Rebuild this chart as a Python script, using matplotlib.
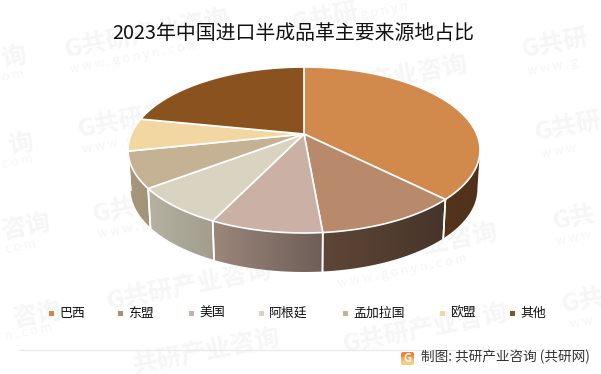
import numpy as np
import matplotlib
matplotlib.use('Agg')
import matplotlib.pyplot as plt
from matplotlib.patches import Polygon, Rectangle, FancyBboxPatch
from matplotlib.colors import to_rgb

plt.rcParams['font.family'] = ['Noto Sans CJK SC', 'DejaVu Sans']

# 数据
categories = ['巴西', '东盟', '美国', '阿根廷', '孟加拉国', '欧盟', '其他']
shares = [37.5, 11.1, 8.6, 7.5, 7.0, 6.4, 21.9]
top_colors = ['#D1894C', '#B8896B', '#CBB0A5', '#D9D4C1', '#C5B295', '#F3D7A3', '#89521F']
# 侧面渐变（左色, 右色）
side_left = ['#55341C', '#5E4636', '#9C867B', '#B5B2A1', '#A8977F', '#A8977F', '#55341C']
side_right = ['#4F311A', '#47352A', '#6D5E57', '#A29D8C', '#A39378', '#A8977F', '#55341C']
legend_x = [51, 120, 191, 261, 345, 442, 512]

# 水印（文字, 起点x, 起点y）
FULL = 'G共研产业咨询'
WWW = 'w w w . g o n y n . c o m'
wm_text = [FULL, 'G共研', FULL, FULL, FULL, 'G共研', FULL, 'G共', FULL, FULL, FULL, 'G共',
           '共研产业咨询', 'G共研', '询', '询', '咨询', '咨询']
wm_x = [65, 522, 78, 303, 318, 535, 93, 553, 333, 107, 343, 562, 133, 292, 1, 8, 1, 12]
wm_y = [50, 50, 130, 96, 182, 133, 215, 222, 264, 302, 345, 305, 366, 24, 60, 147, 232, 320]
www_text = [WWW, WWW, WWW, WWW, WWW, WWW, 'w w w . g o n y n', 'o m', 'c o m', 'c o m', 'n . c o m',
            'w w w . g', 'w w w', 'w w w', 'w w']
www_x = [70, 83, 308, 323, 98, 338, 318, 2, 2, 5, 5, 528, 541, 556, 570]
www_y = [70, 150, 116, 202, 235, 284, 24, 78, 165, 250, 337, 72, 155, 242, 325]

CX, CY = 304, 134
A, B, K = 172.7, 79.9, 0.1928
DEPTH = 39
SHRINK = 0.985
# 透视椭圆左右最宽处对应的角度
SIDE_START = np.pi - np.arccos(K)
SIDE_END = np.pi + np.arccos(K)


def project(theta, bottom=False):
    # 顶面圆 -> 透视椭圆
    u, v = np.sin(theta), -np.cos(theta)
    w = 1 - K * v
    x = A * u / w
    y = CY + B * v / w
    if bottom:
        return CX + x * SHRINK, y + DEPTH
    return CX + x, y


fig = plt.figure(figsize=(6.01, 3.74), dpi=100)
ax = fig.add_axes([0, 0, 1, 1])

# 水印
for s, wx, wy in zip(wm_text, wm_x, wm_y):
    ax.text(wx, wy, s, fontsize=18, fontweight='bold', color='#F6F6F6', rotation=11,
            rotation_mode='anchor', ha='left', va='center', zorder=0)
for s, wx, wy in zip(www_text, www_x, www_y):
    ax.text(wx, wy, s, fontsize=9, color='#F5F5F5', rotation=11,
            rotation_mode='anchor', ha='left', va='center', zorder=0)

edges = np.radians(np.cumsum([0] + shares) * 3.6)

# 侧面
for i in range(len(shares)):
    t0, t1 = max(edges[i], SIDE_START), min(edges[i + 1], SIDE_END)
    if t1 <= t0:
        continue
    ts = np.linspace(t0, t1, 80)
    xs, ys = project(ts)
    xb, yb = project(ts, bottom=True)
    pts = np.r_[np.c_[xs, ys], np.c_[xb, yb][::-1]]
    x0, x1 = pts[:, 0].min(), pts[:, 0].max()
    # 左右方向的渐变
    c0, c1 = np.array(to_rgb(side_left[i])), np.array(to_rgb(side_right[i]))
    grad = np.linspace(0, 1, 64)[None, :, None]
    img = c0[None, None, :] * (1 - grad) + c1[None, None, :] * grad
    im = ax.imshow(img, extent=(x0, x1, pts[:, 1].max(), pts[:, 1].min()),
                   aspect='auto', zorder=2)
    poly = Polygon(pts, closed=True, facecolor='none', edgecolor='none', transform=ax.transData)
    ax.add_patch(poly)
    im.set_clip_path(poly)
    # 分隔线
    for t in (edges[i], edges[i + 1]):
        if SIDE_START < t < SIDE_END:
            xa, ya = project(t)
            xc, yc = project(t, bottom=True)
            ax.plot([xa, xc], [ya, yc], color='white', lw=1.2, zorder=3)

# 顶面
for i in range(len(shares)):
    ts = np.linspace(edges[i], edges[i + 1], 120)
    xs, ys = project(ts)
    ax.add_patch(Polygon(np.r_[[[CX, CY]], np.c_[xs, ys]], closed=True, facecolor=top_colors[i],
                         edgecolor='white', linewidth=1.2, joinstyle='round', zorder=4))

# 标题
ax.text(293, 33, '2023年中国进口半成品革主要来源地占比', fontsize=14.3, color='#111111',
        ha='center', va='center', zorder=6)

# 图例
for i, name in enumerate(categories):
    ax.add_patch(Rectangle((legend_x[i] - 2, 311), 4.5, 4.5, facecolor=top_colors[i],
                           edgecolor='none', zorder=6))
    ax.text(legend_x[i] + 8, 313, name, fontsize=9.3, color='#111111', ha='left', va='center', zorder=6)

# 底部
ax.plot([19, 590], [350, 350], color='#EBEBEB', lw=1, zorder=1)
logo = FancyBboxPatch((402, 353), 11, 11, boxstyle='round,pad=1,rounding_size=2',
                      facecolor='none', edgecolor='none', zorder=6)
ax.add_patch(logo)
logo_img = ax.imshow(np.array([[to_rgb('#F0803F')], [to_rgb('#FBCB80')]]), extent=(401, 414, 365, 352),
                     aspect='auto', interpolation='bilinear', zorder=6)
logo_img.set_clip_path(logo)
ax.text(407.5, 358, 'G', fontsize=8, fontweight='bold', color='white', ha='center', va='center', zorder=7)
ax.text(590, 357, '制图: 共研产业咨询 (共研网)', fontsize=9.8, color='#333333',
        ha='right', va='center', zorder=6)

ax.set_xlim(0, 601)
ax.set_ylim(374, 0)
ax.axis('off')
fig.savefig('out.png', dpi=100)
plt.close()
